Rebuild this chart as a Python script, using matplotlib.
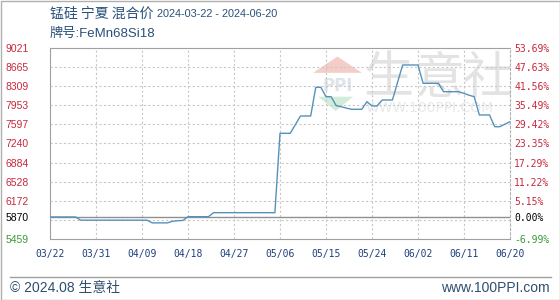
import pandas as pd
import matplotlib.pyplot as plt
from matplotlib.patches import Rectangle, Polygon
from matplotlib.lines import Line2D

# daily price, 2024-03-22 .. 2024-06-20
start_date = "2024-03-22"
end_date = "2024-06-20"
prices = [
    5870, 5870, 5870, 5870, 5870, 5870, 5810, 5810, 5810, 5810,
    5810, 5810, 5810, 5810, 5810, 5810, 5810, 5810, 5810, 5810,
    5760, 5760, 5760, 5760, 5790, 5800, 5805, 5875, 5875, 5875,
    5875, 5875, 5950, 5950, 5950, 5950, 5950, 5950, 5950, 5950,
    5950, 5950, 5950, 5950, 5950, 7430, 7430, 7430, 7590, 7753,
    7753, 7753, 8288, 8288, 8113, 8113, 7945, 7926, 7900, 7878,
    7878, 7878, 8020, 7940, 7940, 8051, 8051, 8051, 8380, 8704,
    8704, 8704, 8704, 8363, 8363, 8363, 8363, 8206, 8206, 8206,
    8206, 8175, 8140, 8113, 7772, 7772, 7772, 7553, 7553, 7600,
    7647,
]

# axis ticks
y_ticks = [5459, 5870, 6172, 6528, 6884, 7240, 7597, 7953, 8309, 8665, 9021]
y_grid = [5815, 6172, 6528, 6884, 7240, 7597, 7953, 8309, 8665]
pct_labels = ["-6.99%", "0.00%", "5.15%", "11.22%", "17.29%", "23.35%",
              "29.42%", "35.49%", "41.56%", "47.63%", "53.69%"]
x_labels = ["03/22", "03/31", "04/09", "04/18", "04/27", "05/06",
            "05/15", "05/24", "06/02", "06/11", "06/20"]

base = 5870
title_name = "锰硅 宁夏 混合价"
title_dates = "2024-03-22 - 2024-06-20"
subtitle = "牌号:FeMn68Si18"

cjk = ['Noto Sans CJK SC', 'DejaVu Sans']
latin_cjk = ['Liberation Sans', 'Noto Sans CJK SC']
red, green, navy = '#c8283c', '#3a9a3a', '#28507a'

dates = pd.date_range(start_date, end_date, freq="D")
df = pd.DataFrame({"date": dates, "price": prices})

W, H = 560, 300
fig = plt.figure(figsize=(W / 100, H / 100), dpi=100)
fig.patch.set_facecolor('white')

# outer frame + footer separator
fig.add_artist(Rectangle((0.5 / W, 0.5 / H), 1 - 1 / W, 1 - 1 / H, transform=fig.transFigure,
                         fill=False, edgecolor='#b0b0b0', lw=1))
fig.add_artist(Line2D([10 / W, 551 / W], [1 - 277 / H] * 2, transform=fig.transFigure,
                      color='#a0a0a0', lw=1))

# plot area in pixels: x 50..510, y 48..239
ax = fig.add_axes([50 / W, 1 - 239 / H, 460 / W, 191 / H])
ax.set_xlim(dates[0], dates[-1])
ax.set_ylim(y_ticks[0], y_ticks[-1])

for y in y_grid:
    ax.axhline(y, color='#c8c8c8', lw=0.8, ls=(0, (2, 2)), zorder=1)
tick_dates = pd.to_datetime(["2024-" + s.replace("/", "-") for s in x_labels])
for d in tick_dates[1:-1]:
    ax.axvline(d, color='#c8c8c8', lw=0.8, ls=(0, (2, 2)), zorder=1)
ax.axhline(base, color='#909090', lw=1, zorder=2)

# watermark
wm = '#e3e3e3'
for ch, xf in zip("生意社", [0.735, 0.848, 0.952]):
    ax.text(xf, 0.84, ch, transform=ax.transAxes, fontsize=36, color=wm,
            family=cjk, ha='center', va='center', zorder=0)
ax.text(0.826, 0.685, "WWW.100PPI.COM", transform=ax.transAxes, fontsize=10, color='#e9e9e9',
        ha='center', va='center', zorder=0)
ax.add_patch(Polygon([(0.572, 0.87), (0.625, 0.955), (0.678, 0.87)], closed=True,
                     transform=ax.transAxes, facecolor='#f4cdc6', edgecolor='none', zorder=0))
ax.text(0.626, 0.80, "PPI", transform=ax.transAxes, fontsize=12, color='#dfe3ea',
        fontweight='bold', ha='center', va='center', zorder=0)
ax.add_patch(Polygon([(0.583, 0.745), (0.621, 0.67), (0.659, 0.745)], closed=True,
                     transform=ax.transAxes, facecolor='#d3ecd9', edgecolor='none', zorder=0))

ax.plot(df["date"], df["price"], color='#5592bb', lw=1.0, zorder=3)

for side in ['left', 'top', 'bottom']:
    ax.spines[side].set_color('#a0a0a0')
ax.spines['right'].set_color('#b0b0b0')
ax.spines['right'].set_linestyle((0, (2, 2)))

ax.set_xticks(tick_dates)
ax.set_xticklabels(x_labels, family='DejaVu Sans Mono', fontsize=7, color='#1f3f7f')
ax.set_yticks(y_ticks)
ax.set_yticklabels([str(v) for v in y_ticks], fontsize=7.5, family='Liberation Sans')
ax.tick_params(axis='both', length=0)
ax.tick_params(axis='x', pad=7)
ax.tick_params(axis='y', pad=15.5)
for lab, v in zip(ax.get_yticklabels(), y_ticks):
    lab.set_color(green if v < base else ('black' if v == base else red))

ax2 = ax.twinx()
ax2.set_ylim(ax.get_ylim())
ax2.set_yticks(y_ticks)
ax2.set_yticklabels(pct_labels, family='DejaVu Sans Mono', fontsize=7)
ax2.tick_params(axis='y', length=0, pad=3)
for lab, v in zip(ax2.get_yticklabels(), y_ticks):
    lab.set_color(green if v < base else ('black' if v == base else red))
for s in ax2.spines.values():
    s.set_visible(False)

# titles and footer
fig.text(50 / W, 1 - 14 / H, title_name, family=cjk, fontsize=10, color=navy, va='center')
fig.text(157 / W, 1 - 14 / H, title_dates, family='Liberation Sans', fontsize=7.8, color=navy,
         va='center')
fig.text(50 / W, 1 - 34 / H, subtitle, family=latin_cjk, fontsize=9.5, color=navy, va='center')
fig.text(10 / W, 1 - 288 / H, "© 2024.08 生意社", family=latin_cjk, fontsize=10, color='#2f4f6f',
         va='center')
fig.text(550 / W, 1 - 288 / H, "www.100PPI.com", family=latin_cjk, fontsize=10, color='#2f4f6f',
         va='center', ha='right')

fig.savefig("out.png", dpi=100)
